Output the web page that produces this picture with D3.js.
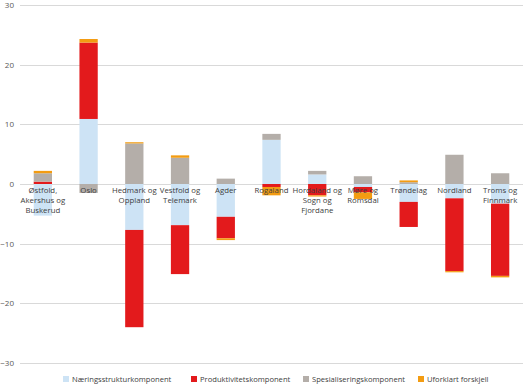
<!DOCTYPE html>
<html>
<head>
<meta charset="utf-8">
<script src="https://cdn.jsdelivr.net/npm/d3@7"></script>
<style>
  body { margin: 0; background: #fff; }
  text { font-family: "Open Sans", sans-serif; }
</style>
</head>
<body>
<div id="chart"></div>
<script>
// Regions (label lines split for wrapping under the zero line)
const regions = [
  ["Østfold,", "Akershus og", "Buskerud"],
  ["Oslo"],
  ["Hedmark og", "Oppland"],
  ["Vestfold og", "Telemark"],
  ["Agder"],
  ["Rogaland"],
  ["Hordaland og", "Sogn og", "Fjordane"],
  ["Møre og", "Romsdal"],
  ["Trøndelag"],
  ["Nordland"],
  ["Troms og", "Finnmark"]
];

// Series values
const naeringsstruktur = [-5.3, 10.9, -7.7, -6.9, -5.5, 7.4, 1.6, -0.5, -3.0, -2.4, -3.3];
const produktivitet    = [0.4, 12.8, -16.3, -8.2, -3.6, -0.5, -1.9, -0.9, -4.2, -12.2, -12.1];
const spesialisering   = [1.4, -1.5, 6.8, 4.4, 0.9, 1.0, 0.6, 1.3, 0.3, 4.9, 1.8];
const uforklart        = [0.4, 0.6, 0.2, 0.4, -0.3, -1.4, -0.2, -1.1, 0.3, -0.2, -0.25];

const yTicks = [-30, -20, -10, 0, 10, 20, 30];

const seriesNames = ["Næringsstrukturkomponent", "Produktivitetskomponent", "Spesialiseringskomponent", "Uforklart forskjell"];
const seriesKeys = ["nae", "pro", "spe", "ufo"];
const seriesColors = ["#cde3f5", "#e31a1c", "#b4aea9", "#f39c12"];

// Build table for d3.stack
const table = regions.map((r, i) => ({
  region: r.join(" "),
  nae: naeringsstruktur[i],
  pro: produktivitet[i],
  spe: spesialisering[i],
  ufo: uforklart[i]
}));

const stacked = d3.stack()
  .keys(seriesKeys)
  .offset(d3.stackOffsetDiverging)(table);

const W = 525, H = 384;
const margin = {top: 5, right: 2, bottom: 21, left: 20};

const svg = d3.select("#chart").append("svg")
  .attr("width", W)
  .attr("height", H);

const x = d3.scaleBand()
  .domain(table.map(d => d.region))
  .range([margin.left, W - margin.right])
  .paddingInner(0.6)
  .paddingOuter(0.3);

const y = d3.scaleLinear()
  .domain([-30, 30])
  .range([H - margin.bottom, margin.top]);

const color = d3.scaleOrdinal().domain(seriesKeys).range(seriesColors);

// Gridlines
svg.append("g")
  .selectAll("line")
  .data(yTicks)
  .enter().append("line")
  .attr("x1", margin.left)
  .attr("x2", W - margin.right)
  .attr("y1", d => Math.round(y(d)) + 0.5)
  .attr("y2", d => Math.round(y(d)) + 0.5)
  .attr("stroke", "#d9d9d9")
  .attr("stroke-width", 1);

// Y axis labels
const yAxis = svg.append("g")
  .attr("transform", "translate(" + (margin.left - 6) + ",0)")
  .call(d3.axisLeft(y).tickValues(yTicks).tickSize(0).tickPadding(0));
yAxis.select(".domain").remove();
yAxis.selectAll("text")
  .attr("fill", "#595959")
  .style("font-size", "8px")
  .style("font-family", "'Open Sans', sans-serif");

// Bars
svg.append("g")
  .selectAll("g")
  .data(stacked)
  .enter().append("g")
  .attr("fill", d => color(d.key))
  .selectAll("rect")
  .data(d => d)
  .enter().append("rect")
  .attr("x", d => x(d.data.region))
  .attr("width", x.bandwidth())
  .attr("y", d => y(Math.max(d[0], d[1])))
  .attr("height", d => Math.abs(y(d[0]) - y(d[1])));

// Category labels just under the zero line
const labels = svg.append("g")
  .selectAll("text")
  .data(regions)
  .enter().append("text")
  .attr("x", (d, i) => x(table[i].region) + x.bandwidth() / 2)
  .attr("y", y(0) + 9)
  .attr("text-anchor", "middle")
  .attr("fill", "#404040")
  .style("font-size", "7.8px");
labels.selectAll("tspan")
  .data(d => d)
  .enter().append("tspan")
  .attr("x", function() { return d3.select(this.parentNode).attr("x"); })
  .attr("dy", (d, i) => i === 0 ? 0 : 10)
  .text(d => d);

// Legend
const legendX = [63, 191, 303, 418];
const legend = svg.append("g")
  .selectAll("g")
  .data(seriesNames)
  .enter().append("g")
  .attr("transform", (d, i) => "translate(" + legendX[i] + "," + (H - 5) + ")");
legend.append("rect")
  .attr("x", 0)
  .attr("y", -3)
  .attr("width", 6)
  .attr("height", 6)
  .attr("fill", (d, i) => seriesColors[i]);
legend.append("text")
  .attr("x", 9)
  .attr("y", 3)
  .attr("fill", "#404040")
  .style("font-size", "7.6px")
  .text(d => d);
</script>
</body>
</html>
